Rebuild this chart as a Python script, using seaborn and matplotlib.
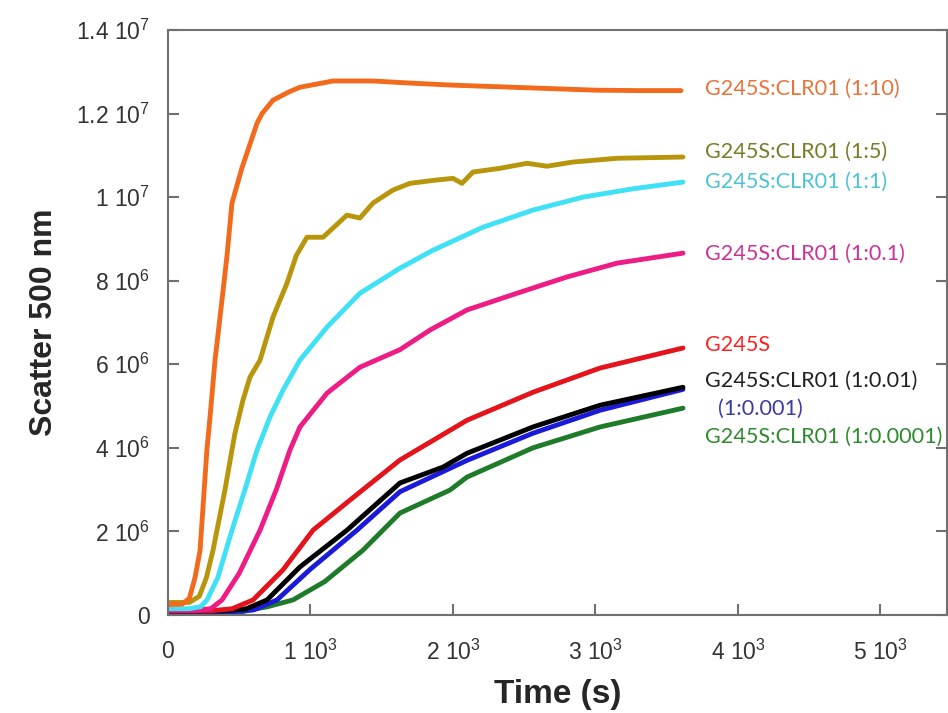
import matplotlib
matplotlib.use("Agg")
import matplotlib.pyplot as plt
import numpy as np
import pandas as pd
import seaborn as sns

# light scattering at 500 nm, time in s, signal in units of 1e6
t_1_10 = [0, 100, 150, 190, 225, 273, 295, 330, 379, 414, 449, 519, 625, 660, 737, 850, 926, 1158, 1439, 1698, 2000, 2500, 3000, 3300, 3600]
s_1_10 = [0.25, 0.26, 0.4, 0.9, 1.55, 3.95, 4.74, 6.1, 7.54, 8.6, 9.86, 10.7, 11.77, 12.0, 12.32, 12.52, 12.63, 12.78, 12.78, 12.73, 12.68, 12.62, 12.56, 12.55, 12.55]

t_1_5 = [0, 150, 220, 270, 316, 400, 449, 470, 526, 575, 646, 737, 835, 900, 975, 1088, 1256, 1347, 1439, 1579, 1698, 1860, 2000, 2063, 2140, 2330, 2519, 2660, 2842, 3151, 3614]
s_1_5 = [0.3, 0.3, 0.45, 0.9, 1.55, 3.0, 3.95, 4.35, 5.14, 5.69, 6.1, 7.13, 7.94, 8.6, 9.04, 9.04, 9.57, 9.5, 9.86, 10.17, 10.33, 10.4, 10.45, 10.33, 10.6, 10.69, 10.81, 10.74, 10.84, 10.93, 10.96]

t_1_1 = [0, 150, 230, 274, 350, 449, 540, 625, 716, 807, 926, 1116, 1347, 1628, 1860, 2211, 2561, 2912, 3263, 3614]
s_1_1 = [0.15, 0.15, 0.2, 0.36, 0.9, 2.03, 3.0, 3.95, 4.74, 5.38, 6.1, 6.89, 7.7, 8.3, 8.73, 9.28, 9.69, 10.0, 10.2, 10.36]

t_1_01 = [0, 200, 300, 379, 500, 646, 760, 856, 926, 1116, 1347, 1628, 1839, 2098, 2449, 2800, 3151, 3614]
s_1_01 = [0.12, 0.12, 0.15, 0.36, 1.0, 2.03, 3.0, 3.95, 4.5, 5.31, 5.93, 6.35, 6.82, 7.3, 7.7, 8.09, 8.42, 8.66]

t_wt = [0, 300, 450, 597, 807, 1018, 1277, 1628, 1747, 2098, 2561, 3032, 3614]
s_wt = [0.1, 0.1, 0.15, 0.36, 1.08, 2.03, 2.75, 3.71, 3.95, 4.66, 5.33, 5.91, 6.39]

t_1_001 = [0, 400, 550, 695, 926, 1256, 1628, 1930, 2098, 2561, 3032, 3614]
s_1_001 = [0.1, 0.1, 0.15, 0.36, 1.15, 2.03, 3.16, 3.54, 3.87, 4.5, 5.02, 5.45]

t_1_0001 = [0, 450, 600, 765, 1000, 1326, 1628, 2098, 2561, 3032, 3614]
s_1_0001 = [0.08, 0.08, 0.12, 0.36, 1.1, 2.03, 2.95, 3.7, 4.35, 4.9, 5.4]

t_1_00001 = [0, 500, 575, 700, 877, 1100, 1368, 1628, 1979, 2098, 2561, 3032, 3614]
s_1_00001 = [0.05, 0.06, 0.12, 0.2, 0.36, 0.8, 1.55, 2.44, 2.99, 3.3, 4.0, 4.5, 4.95]

samples = ["1:0.0001", "1:0.001", "1:0.01", "G245S", "1:0.1", "1:1", "1:5", "1:10"]
times = [t_1_00001, t_1_0001, t_1_001, t_wt, t_1_01, t_1_1, t_1_5, t_1_10]
signals = [s_1_00001, s_1_0001, s_1_001, s_wt, s_1_01, s_1_1, s_1_5, s_1_10]

line_colors = ["#1e7b2a", "#1a1ad8", "#000000", "#e3141b", "#ee1c85", "#40e0f5", "#b8960c", "#f26b1d"]
label_colors = ["#2e8b2e", "#3a3aa8", "#222222", "#ff2222", "#cc3399", "#4cc4d6", "#7b7b2a", "#e8743b"]
label_texts = ["G245S:CLR01 (1:0.0001)", "(1:0.001)", "G245S:CLR01 (1:0.01)", "G245S",
               "G245S:CLR01 (1:0.1)", "G245S:CLR01 (1:1)", "G245S:CLR01 (1:5)", "G245S:CLR01 (1:10)"]

y_ticks = [0, 2e6, 4e6, 6e6, 8e6, 1e7, 1.2e7, 1.4e7]
y_ticklabels = ["0", "2 10$^{6}$", "4 10$^{6}$", "6 10$^{6}$", "8 10$^{6}$", "1 10$^{7}$", "1.2 10$^{7}$", "1.4 10$^{7}$"]
x_ticks = [0, 1000, 2000, 3000, 4000, 5000]
x_ticklabels = ["0", "1 10$^{3}$", "2 10$^{3}$", "3 10$^{3}$", "4 10$^{3}$", "5 10$^{3}$"]

frames = []
for name, t, s in zip(samples, times, signals):
    frames.append(pd.DataFrame({"time": t, "scatter": np.array(s) * 1e6, "sample": name}))
df = pd.concat(frames, ignore_index=True)

sns.set_style("ticks")
plt.rcParams["font.family"] = ["Liberation Sans", "DejaVu Sans"]
plt.rcParams["mathtext.fontset"] = "custom"
plt.rcParams["mathtext.rm"] = "Liberation Sans"
plt.rcParams["mathtext.default"] = "regular"

fig = plt.figure(figsize=(9.48, 7.13), dpi=100)
ax = fig.add_axes([168 / 948, 98 / 713, 779 / 948, 585 / 713])

sns.lineplot(data=df, x="time", y="scatter", hue="sample", hue_order=samples,
             palette=dict(zip(samples, line_colors)), estimator=None, sort=False,
             legend=False, lw=3.5, ax=ax)

ax.set_xlim(0, 5467)
ax.set_ylim(0, 1.4e7)
ax.set_xticks(x_ticks)
ax.set_xticklabels(x_ticklabels)
ax.set_yticks(y_ticks)
ax.set_yticklabels(y_ticklabels)

for side in ["left", "right", "top", "bottom"]:
    ax.spines[side].set_color("#707070")
    ax.spines[side].set_linewidth(1.5)
ax.tick_params(direction="in", length=8, width=1.5, color="#707070",
               top=False, right=True, labelsize=16.5, labelcolor="#333333")
ax.tick_params(axis="y", pad=13)
ax.tick_params(axis="x", pad=18)

ax.set_xlabel("Time (s)", fontsize=24, fontweight="bold", labelpad=10)
ax.set_ylabel("Scatter 500 nm", fontsize=23, fontweight="bold", labelpad=12)

# curve labels at the right end of each trace
label_x = [3770, 3860, 3770, 3770, 3770, 3770, 3770, 3770]
label_y = [4.26e6, 4.93e6, 5.6e6, 6.46e6, 8.64e6, 10.36e6, 11.08e6, 12.58e6]
for txt, c, lx, ly in zip(label_texts, label_colors, label_x, label_y):
    ax.text(lx, ly, txt, color=c, fontsize=15.6, family=["Lato", "DejaVu Sans"],
            ha="left", va="center", clip_on=False)

fig.savefig("out.png", dpi=100)
